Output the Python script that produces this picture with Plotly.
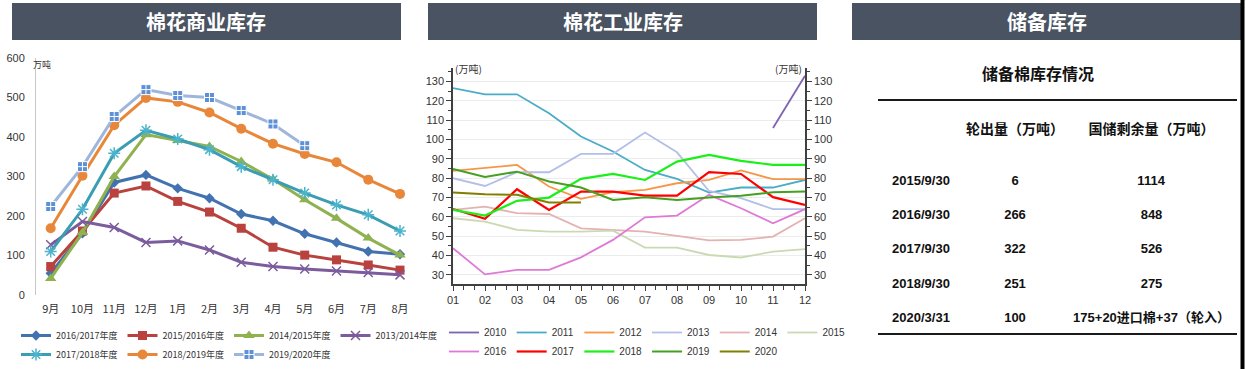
import plotly.graph_objects as go

W, H = 1246, 369


def px(x):
    return x / W


def py(y):
    return 1 - y / H


# ---------------- data: 棉花商业库存 ----------------
months_left = ["9月", "10月", "11月", "12月", "1月", "2月", "3月", "4月", "5月", "6月", "7月", "8月"]
s_2016_2017 = [55, 156, 285, 304, 270, 245, 205, 188, 155, 133, 110, 103]
s_2015_2016 = [72, 162, 258, 276, 237, 210, 169, 121, 101, 89, 76, 63]
s_2014_2015 = [42, 158, 300, 406, 391, 376, 338, 293, 241, 194, 144, 101]
s_2013_2014 = [127, 186, 171, 133, 137, 114, 83, 72, 66, 61, 57, 51]
s_2017_2018 = [110, 217, 359, 417, 395, 368, 325, 292, 258, 228, 203, 162]
s_2018_2019 = [169, 302, 430, 499, 489, 462, 421, 383, 357, 336, 292, 256]
s_2019_2020 = [224, 325, 452, 520, 505, 500, 467, 433, 378]

# ---------------- data: 棉花工业库存 ----------------
month_nums = [1, 2, 3, 4, 5, 6, 7, 8, 9, 10, 11, 12]
month_labels = ["01", "02", "03", "04", "05", "06", "07", "08", "09", "10", "11", "12"]
y2010 = [None, None, None, None, None, None, None, None, None, None, 106, 133]
y2011 = [126.6, 123.4, 123.4, 113.6, 101.6, 93.8, 84.3, 79.7, 72.6, 75.2, 75.2, 79.1]
y2012 = [83.8, 85.5, 86.9, 75.7, 69.3, 72.8, 74.0, 77.4, 79.1, 84.0, 79.5, 79.5]
y2013 = [80.0, 76.0, 83.1, 83.1, 92.6, 92.6, 103.6, 93.4, 73.4, 69.7, 64.0, 64.0]
y2014 = [63.6, 65.3, 61.9, 61.5, 54.1, 53.3, 52.4, 50.2, 47.9, 48.1, 49.8, 59.3]
y2015 = [59.3, 57.6, 53.3, 52.4, 52.4, 52.9, 44.1, 44.1, 40.3, 39.0, 42.0, 43.3]
y2016 = [43.8, 30.3, 32.6, 32.6, 39.1, 48.1, 59.8, 60.7, 71.4, 64.5, 56.7, 64.0]
y2017 = [64.1, 59.0, 74.3, 63.6, 73.1, 73.1, 71.0, 71.0, 83.1, 82.2, 70.2, 66.2]
y2018 = [63.6, 60.7, 68.3, 70.0, 79.7, 82.2, 79.1, 88.6, 92.1, 89.0, 86.9, 86.9]
y2019 = [84.8, 80.7, 83.4, 78.3, 75.2, 68.8, 70.2, 68.8, 70.0, 70.9, 72.8, 73.1]
y2020 = [72.6, 71.7, 71.4, 67.4, 67.4, None, None, None, None, None, None, None]

# ---------------- data: 储备库存 table ----------------
table_dates = ["2015/9/30", "2016/9/30", "2017/9/30", "2018/9/30", "2020/3/31"]
table_out = ["6", "266", "322", "251", "100"]
table_remain = ["1114", "848", "526", "275", "175+20进口棉+37（轮入）"]
table_header = ["", "轮出量（万吨）", "国储剩余量（万吨）"]

CJK = "Noto Sans CJK SC"
NARROW = "Liberation Sans Narrow, Liberation Sans, Noto Sans CJK SC"

fig = go.Figure()

# left chart traces (name, data, line colour, marker colour, symbol, size, group)
left_specs = [
    ("2016/2017年度", s_2016_2017, "#4372b0", "#4372b0", "diamond", 8, "a"),
    ("2015/2016年度", s_2015_2016, "#b9413e", "#b9413e", "square", 9, "b"),
    ("2014/2015年度", s_2014_2015, "#8fb150", "#8fb150", "triangle-up", 10, "c"),
    ("2013/2014年度", s_2013_2014, "#7b5c9c", "#7b5c9c", "x-thin", 9, "d"),
    ("2017/2018年度", s_2017_2018, "#3a9db3", "#4bb4cc", "asterisk", 10, "a"),
    ("2018/2019年度", s_2018_2019, "#e8873a", "#e8873a", "circle", 10, "b"),
    ("2019/2020年度", s_2019_2020, "#9fb6dc", "#5d90d6", "square-cross", 10, "c"),
]
for name, vals, lc, mc, sym, size, grp in left_specs:
    thin = sym in ("x-thin", "asterisk")
    fig.add_trace(go.Scatter(
        x=months_left[:len(vals)], y=vals, name=name, mode="lines+markers",
        xaxis="x", yaxis="y", legend="legend", legendgroup="L" + grp,
        line=dict(color=lc, width=3),
        marker=dict(symbol=sym, size=size, color=mc,
                    line=dict(color=mc if thin else ("#ffffff" if sym == "square-cross" else mc),
                              width=1.5 if thin else (1 if sym == "square-cross" else 0))),
    ))

# middle chart traces
mid_specs = [
    ("2010", y2010, "#7f63b2", 1.8, "a"),
    ("2011", y2011, "#4bacc6", 1.8, "b"),
    ("2012", y2012, "#f79646", 1.8, "c"),
    ("2013", y2013, "#b3bfe6", 1.8, "d"),
    ("2014", y2014, "#e4b2b2", 1.8, "e"),
    ("2015", y2015, "#cbd9b3", 1.8, "f"),
    ("2016", y2016, "#de7ad6", 1.8, "a"),
    ("2017", y2017, "#ff0000", 2.2, "b"),
    ("2018", y2018, "#19f019", 2.2, "c"),
    ("2019", y2019, "#44a020", 2.0, "d"),
    ("2020", y2020, "#808000", 2.0, "e"),
]
for name, vals, c, w, grp in mid_specs:
    fig.add_trace(go.Scatter(
        x=month_nums, y=vals, name=name, mode="lines",
        xaxis="x2", yaxis="y3" if name == "2010" else "y2",
        legend="legend2", legendgroup="M" + grp,
        line=dict(color=c, width=w),
    ))

# table
fig.add_trace(go.Table(
    domain=dict(x=[px(878), px(1237)], y=[py(336), py(110)]),
    columnwidth=[86, 102, 171],
    header=dict(values=["<b>%s</b>" % v if v else "" for v in table_header],
                height=55, align="center",
                fill=dict(color="white"), line=dict(color="white", width=0),
                font=dict(family=CJK, size=14, color="#111111")),
    cells=dict(values=[["<b>%s</b>" % v for v in table_dates],
                       ["<b>%s</b>" % v for v in table_out],
                       ["<b>%s</b>" % v for v in table_remain]],
               height=34.2, align="center",
               fill=dict(color="white"), line=dict(color="white", width=0),
               font=dict(family=NARROW, size=13, color="#111111")),
))

axis_font = dict(family=NARROW, size=11, color="#333333")

shapes = []
annotations = []
headers = [(12, 401, "棉花商业库存"), (428, 817, "棉花工业库存"), (852, 1241, "储备库存")]
for x0, x1, t in headers:
    shapes.append(dict(type="rect", xref="paper", yref="paper", x0=px(x0), x1=px(x1),
                       y0=py(40), y1=py(3), fillcolor="#4a5361", line=dict(width=0), layer="below"))
    annotations.append(dict(xref="paper", yref="paper", x=px((x0 + x1) / 2), y=py(21.5),
                            text="<b>%s</b>" % t, showarrow=False, xanchor="center", yanchor="middle",
                            font=dict(family=CJK, size=20, color="white")))

# table rules and right border
shapes.append(dict(type="line", xref="paper", yref="paper", x0=px(878), x1=px(1237), y0=py(100), y1=py(100),
                   line=dict(color="#1a1a1a", width=2)))
shapes.append(dict(type="line", xref="paper", yref="paper", x0=px(878), x1=px(1237), y0=py(334), y1=py(334),
                   line=dict(color="#1a1a1a", width=2)))
shapes.append(dict(type="line", xref="paper", yref="paper", x0=px(1242.5), x1=px(1242.5), y0=0, y1=1,
                   line=dict(color="#000000", width=4)))

annotations += [
    dict(xref="paper", yref="paper", x=px(31), y=py(65), text="万吨", showarrow=False,
         xanchor="left", yanchor="middle", font=dict(family=CJK, size=9, color="#333333")),
    dict(xref="paper", yref="paper", x=px(453), y=py(68), text="(万吨)", showarrow=False,
         xanchor="left", yanchor="middle", font=dict(family=CJK, size=10, color="#333333")),
    dict(xref="paper", yref="paper", x=px(804), y=py(68), text="(万吨)", showarrow=False,
         xanchor="right", yanchor="middle", font=dict(family=CJK, size=10, color="#333333")),
    dict(xref="paper", yref="paper", x=px(1038), y=py(73), text="<b>储备棉库存情况</b>", showarrow=False,
         xanchor="center", yanchor="middle", font=dict(family=CJK, size=16, color="#111111")),
]

fig.update_layout(
    width=W, height=H, autosize=False,
    margin=dict(l=0, r=0, t=0, b=0, autoexpand=False),
    paper_bgcolor="white", plot_bgcolor="rgba(0,0,0,0)",
    font=dict(family=CJK, color="#333333"),
    showlegend=True,
    xaxis=dict(domain=[px(36), px(410)], anchor="y", type="category", range=[-0.463, 11.315],
               showline=False, ticks="", showgrid=False, zeroline=False,
               tickfont=dict(family=CJK, size=11, color="#333333"), ticklabelstandoff=6),
    yaxis=dict(domain=[py(295), py(58)], anchor="x", range=[0, 600], dtick=100,
               showline=True, linecolor="#c8c8c8", linewidth=1, ticks="", showgrid=False, zeroline=False,
               tickfont=dict(family=NARROW, size=11, color="#333333"), ticklabelstandoff=8),
    xaxis2=dict(domain=[px(453), px(805)], anchor="y2", range=[1, 12],
                tickvals=month_nums, ticktext=month_labels,
                showline=True, linecolor="#404040", linewidth=1.5, showgrid=False, zeroline=False,
                ticks="outside", ticklen=5, tickcolor="#404040", tickwidth=1,
                minor=dict(tick0=1, dtick=1 / 3, ticks="outside", ticklen=4, tickcolor="#404040", showgrid=False),
                tickfont=axis_font),
    yaxis2=dict(domain=[py(284), py(68)], anchor="x2", range=[25.3, 137], tick0=0, dtick=10,
                showline=True, linecolor="#404040", linewidth=1.5, zeroline=False,
                showgrid=True, gridcolor="#ececec", gridwidth=1,
                ticks="outside", ticklen=5, tickcolor="#404040",
                minor=dict(dtick=5, ticks="outside", ticklen=3, tickcolor="#404040", showgrid=False),
                tickfont=axis_font),
    yaxis3=dict(anchor="x2", overlaying="y2", side="right", range=[25.3, 137], tick0=0, dtick=10,
                showline=True, linecolor="#404040", linewidth=1.5, zeroline=False, showgrid=False,
                ticks="outside", ticklen=5, tickcolor="#404040",
                minor=dict(dtick=5, ticks="outside", ticklen=3, tickcolor="#404040", showgrid=False),
                tickfont=axis_font),
    legend=dict(orientation="h", traceorder="grouped", tracegroupgap=0,
                x=px(16), y=0, xanchor="left", yanchor="bottom",
                bgcolor="rgba(0,0,0,0)", font=dict(family=CJK, size=9, color="#333333"), itemwidth=30),
    legend2=dict(orientation="h", traceorder="grouped", tracegroupgap=0,
                 x=px(444), y=py(366), xanchor="left", yanchor="bottom",
                 bgcolor="rgba(0,0,0,0)", font=dict(family=NARROW, size=10, color="#333333"), itemwidth=30),
    shapes=shapes,
    annotations=annotations,
)

fig.write_html("out.html", config={"displayModeBar": False},
               post_script="document.body.style.margin='0';document.body.style.padding='0';")
